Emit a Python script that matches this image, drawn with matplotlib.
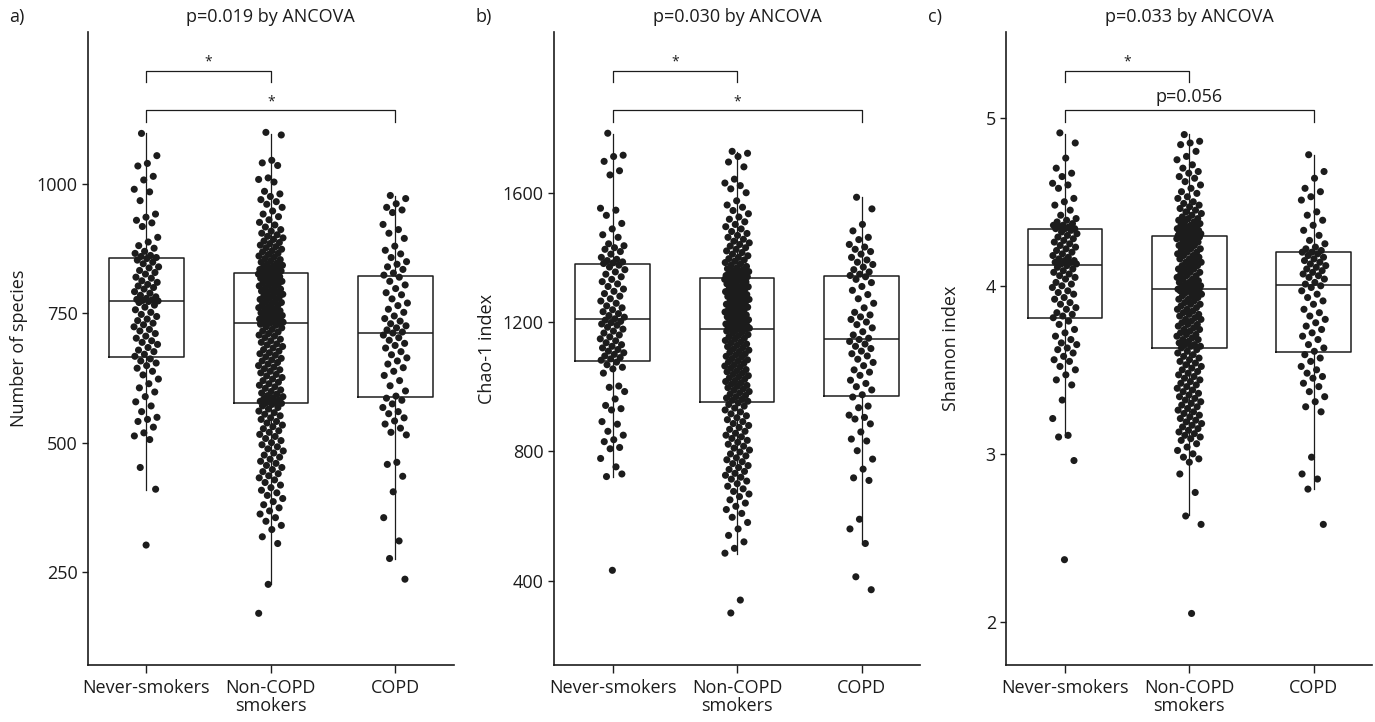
import numpy as np
import matplotlib.pyplot as plt
import matplotlib.transforms as mtransforms

plt.rcParams['font.family'] = ['Open Sans', 'DejaVu Sans']

groups = ['Never-smokers', 'Non-COPD\nsmokers', 'COPD']

# ---- a) number of species ----
never_a = [1098, 1055, 1040, 1035, 1015, 1008, 990, 985, 968, 942, 936, 930, 925, 918, 897, 888, 881, 876, 870, 866,
           862, 860, 858, 856, 853, 849, 846, 840, 838, 833, 829, 826, 820, 818, 813, 810, 806, 803, 800, 797,
           792, 789, 785, 782, 779, 777, 776, 775, 774, 773, 771, 766, 762, 757, 752, 748, 744, 739, 736, 731,
           728, 724, 719, 716, 711, 706, 702, 697, 694, 690, 684, 679, 676, 671, 667, 662, 658, 654, 649, 644,
           638, 631, 623, 614, 606, 598, 589, 579, 571, 560, 549, 545, 541, 530, 519, 513, 506, 452, 410, 302]
noncopd_a = [1100, 1095, 1046, 1041, 1036, 1012, 1009, 1004, 986, 981, 976, 970, 966, 961, 955, 948, 942, 937, 931, 926,
             921, 917, 912, 909, 905, 902, 899, 896, 893, 890, 887, 885, 882, 879, 877, 874, 871, 869, 866, 864,
             861, 859, 856, 854, 852, 849, 847, 845, 843, 841, 839, 838, 836, 835, 834, 833, 832, 831, 830, 829,
             828, 826, 825, 823, 821, 819, 818, 816, 814, 812, 811, 809, 807, 805, 803, 801, 799, 797, 795, 793,
             791, 789, 787, 785, 783, 781, 779, 777, 775, 773, 771, 769, 767, 765, 763, 761, 759, 757, 755, 753,
             751, 750, 748, 746, 745, 743, 742, 740, 739, 738, 737, 736, 735, 735, 734, 734, 733, 733, 732, 732,
             731, 729, 727, 724, 722, 719, 716, 714, 711, 708, 706, 703, 700, 697, 694, 691, 689, 686, 683, 680,
             677, 674, 672, 669, 666, 663, 660, 658, 655, 652, 649, 646, 643, 641, 638, 635, 632, 629, 626, 623,
             620, 617, 614, 611, 608, 605, 602, 599, 596, 594, 591, 589, 587, 585, 583, 581, 580, 578, 577, 576,
             574, 571, 568, 565, 561, 558, 555, 552, 548, 545, 541, 538, 534, 531, 527, 523, 520, 516, 512, 508,
             504, 500, 496, 492, 488, 484, 480, 476, 472, 468, 464, 460, 456, 452, 448, 444, 440, 436, 432, 428,
             423, 418, 413, 408, 403, 398, 392, 386, 380, 374, 368, 362, 355, 348, 340, 332, 318, 305, 226, 170]
copd_a = [978, 972, 962, 955, 950, 945, 922, 912, 905, 895, 880, 872, 865, 858, 850, 845, 840, 835, 828, 824,
          820, 812, 805, 798, 790, 786, 778, 770, 765, 758, 752, 745, 740, 735, 730, 726, 722, 718, 714,
          712, 708, 703, 698, 692, 688, 683, 676, 670, 664, 658, 652, 645, 638, 630, 620, 610, 600, 590,
          586, 582, 575, 568, 560, 556, 548, 542, 536, 528, 520, 515, 462, 458, 435, 405, 355, 310, 276, 236]
# whisker low, q1, median, q3, whisker high
stats_a = [[408, 665, 774, 857, 1098], [226, 576, 732, 829, 1096], [276, 588, 713, 823, 977]]

# ---- b) Chao-1 index ----
never_b = [1784, 1716, 1712, 1697, 1668, 1655, 1552, 1546, 1530, 1505, 1488, 1470, 1462, 1442, 1436, 1430, 1425, 1418, 1410, 1400,
           1394, 1390, 1386, 1383, 1381, 1376, 1370, 1362, 1355, 1348, 1340, 1332, 1325, 1318, 1310, 1302, 1295, 1288, 1280, 1272,
           1265, 1258, 1250, 1244, 1238, 1232, 1226, 1220, 1215, 1210, 1206, 1202, 1198, 1194, 1190, 1184, 1178, 1172, 1166, 1160,
           1154, 1148, 1142, 1136, 1130, 1125, 1120, 1115, 1110, 1105, 1100, 1095, 1090, 1086, 1082, 1076, 1068, 1060, 1055, 1042,
           1002, 998, 985, 962, 942, 932, 928, 892, 884, 862, 850, 836, 830, 812, 808, 778, 752, 722, 730, 432]
noncopd_b = [1728, 1722, 1712, 1695, 1680, 1642, 1630, 1622, 1612, 1600, 1575, 1562, 1555, 1545, 1535, 1525, 1518, 1510, 1502, 1495,
             1488, 1480, 1474, 1468, 1462, 1456, 1450, 1445, 1440, 1435, 1430, 1425, 1420, 1415, 1410, 1405, 1400, 1396, 1392, 1388,
             1384, 1380, 1376, 1372, 1368, 1365, 1362, 1359, 1356, 1353, 1350, 1348, 1346, 1344, 1342, 1341, 1340, 1339, 1338, 1337,
             1335, 1332, 1330, 1327, 1324, 1321, 1318, 1315, 1312, 1309, 1306, 1303, 1300, 1297, 1294, 1291, 1288, 1285, 1282, 1279,
             1276, 1273, 1270, 1267, 1264, 1261, 1258, 1255, 1252, 1249, 1246, 1243, 1240, 1237, 1234, 1231, 1228, 1225, 1222, 1219,
             1216, 1213, 1210, 1207, 1204, 1201, 1198, 1196, 1194, 1192, 1190, 1188, 1186, 1184, 1183, 1182, 1181, 1180, 1179, 1178,
             1176, 1172, 1168, 1165, 1161, 1158, 1154, 1150, 1147, 1143, 1139, 1136, 1132, 1128, 1124, 1121, 1117, 1113, 1109, 1106,
             1102, 1098, 1094, 1091, 1087, 1083, 1079, 1076, 1072, 1068, 1064, 1061, 1057, 1053, 1049, 1046, 1042, 1038, 1034, 1031,
             1027, 1023, 1019, 1016, 1012, 1008, 1004, 1001, 997, 993, 989, 985, 981, 977, 973, 969, 965, 961, 958, 955,
             950, 945, 940, 934, 928, 922, 916, 910, 904, 898, 892, 886, 880, 874, 868, 862, 856, 850, 845, 840,
             834, 828, 822, 816, 810, 804, 798, 792, 786, 780, 774, 768, 762, 756, 750, 744, 738, 732, 726, 720,
             714, 708, 700, 692, 684, 676, 668, 660, 650, 640, 630, 620, 608, 596, 580, 560, 540, 520, 500, 485, 340, 300]
copd_b = [1586, 1550, 1502, 1482, 1462, 1455, 1440, 1432, 1425, 1418, 1410, 1400, 1392, 1385, 1378, 1370, 1362, 1355, 1348, 1344,
          1340, 1332, 1322, 1310, 1298, 1285, 1272, 1258, 1244, 1230, 1222, 1216, 1208, 1200, 1192, 1182, 1170, 1160, 1150,
          1146, 1140, 1132, 1125, 1118, 1110, 1102, 1095, 1085, 1075, 1065, 1052, 1045, 1035, 1020, 1010, 1000, 990, 975,
          968, 940, 935, 912, 905, 900, 885, 860, 838, 832, 802, 776, 745, 718, 710, 590, 560, 515, 412, 372]
stats_b = [[721, 1080, 1209, 1380, 1782], [484, 954, 1177, 1337, 1727], [514, 972, 1147, 1343, 1586]]

# ---- c) Shannon index ----
never_c = [4.91, 4.85, 4.76, 4.70, 4.67, 4.65, 4.61, 4.60, 4.58, 4.52, 4.50, 4.48, 4.45, 4.42, 4.40, 4.39, 4.38, 4.37, 4.36, 4.36,
           4.35, 4.35, 4.34, 4.34, 4.34, 4.33, 4.32, 4.31, 4.30, 4.29, 4.28, 4.27, 4.26, 4.25, 4.24, 4.23, 4.22, 4.21, 4.20, 4.19,
           4.18, 4.17, 4.16, 4.15, 4.15, 4.14, 4.14, 4.13, 4.13, 4.12, 4.11, 4.10, 4.09, 4.08, 4.07, 4.06, 4.05, 4.04, 4.02, 4.01,
           4.00, 3.99, 3.97, 3.96, 3.95, 3.93, 3.92, 3.90, 3.89, 3.87, 3.86, 3.84, 3.83, 3.82, 3.81, 3.79, 3.77, 3.74, 3.72, 3.70,
           3.68, 3.66, 3.65, 3.63, 3.62, 3.60, 3.58, 3.56, 3.55, 3.52, 3.50, 3.47, 3.44, 3.41, 3.32, 3.21, 3.11, 3.10, 2.96, 2.37]
noncopd_c = [4.90, 4.86, 4.85, 4.84, 4.80, 4.77, 4.75, 4.72, 4.70, 4.68, 4.67, 4.65, 4.64, 4.62, 4.60, 4.58, 4.56, 4.55, 4.53, 4.52,
             4.50, 4.49, 4.48, 4.47, 4.46, 4.45, 4.44, 4.43, 4.42, 4.41, 4.40, 4.40, 4.39, 4.38, 4.38, 4.37, 4.36, 4.36, 4.35, 4.35,
             4.34, 4.34, 4.33, 4.33, 4.32, 4.32, 4.32, 4.31, 4.31, 4.31, 4.30, 4.30, 4.30, 4.30, 4.30, 4.30, 4.29, 4.29, 4.29, 4.29,
             4.28, 4.28, 4.27, 4.26, 4.26, 4.25, 4.24, 4.24, 4.23, 4.22, 4.22, 4.21, 4.20, 4.20, 4.19, 4.18, 4.18, 4.17, 4.16, 4.16,
             4.15, 4.14, 4.14, 4.13, 4.12, 4.12, 4.11, 4.10, 4.10, 4.09, 4.08, 4.08, 4.07, 4.06, 4.06, 4.05, 4.04, 4.04, 4.03, 4.02,
             4.02, 4.01, 4.01, 4.00, 4.00, 3.99, 3.99, 3.99, 3.98, 3.98, 3.98, 3.98, 3.97, 3.97, 3.96, 3.96, 3.95, 3.94, 3.94, 3.93,
             3.92, 3.92, 3.91, 3.90, 3.89, 3.89, 3.88, 3.87, 3.86, 3.86, 3.85, 3.84, 3.83, 3.83, 3.82, 3.81, 3.80, 3.80, 3.79, 3.78,
             3.77, 3.77, 3.76, 3.75, 3.74, 3.74, 3.73, 3.72, 3.71, 3.71, 3.70, 3.69, 3.68, 3.68, 3.67, 3.66, 3.65, 3.65, 3.64, 3.64,
             3.63, 3.62, 3.61, 3.60, 3.59, 3.58, 3.57, 3.56, 3.55, 3.54, 3.53, 3.52, 3.51, 3.50, 3.49, 3.48, 3.47, 3.46, 3.45, 3.44,
             3.43, 3.42, 3.41, 3.40, 3.39, 3.38, 3.37, 3.36, 3.35, 3.34, 3.33, 3.32, 3.31, 3.30, 3.29, 3.28, 3.27, 3.26, 3.25, 3.24,
             3.23, 3.22, 3.21, 3.20, 3.19, 3.18, 3.17, 3.16, 3.15, 3.14, 3.13, 3.12, 3.11, 3.10, 3.09, 3.08, 3.06, 3.04, 3.02, 3.00,
             2.98, 2.97, 2.95, 2.88, 2.77, 2.63, 2.58, 2.05]
copd_c = [4.78, 4.68, 4.64, 4.58, 4.56, 4.53, 4.51, 4.44, 4.42, 4.39, 4.36, 4.33, 4.30, 4.27, 4.25, 4.23, 4.22, 4.21, 4.20, 4.20,
          4.19, 4.18, 4.17, 4.16, 4.15, 4.14, 4.13, 4.12, 4.11, 4.10, 4.09, 4.08, 4.07, 4.06, 4.05, 4.04, 4.02, 4.01, 4.00,
          3.99, 3.97, 3.95, 3.93, 3.91, 3.89, 3.86, 3.84, 3.82, 3.80, 3.78, 3.76, 3.74, 3.72, 3.70, 3.68, 3.65, 3.63, 3.61,
          3.59, 3.57, 3.55, 3.52, 3.50, 3.48, 3.46, 3.45, 3.42, 3.40, 3.37, 3.34, 3.31, 3.28, 3.25, 2.98, 2.88, 2.85, 2.79, 2.58]
stats_c = [[3.103, 3.806, 4.122, 4.338, 4.903], [2.634, 3.632, 3.978, 4.296, 4.903], [2.788, 3.604, 4.004, 4.199, 4.779]]

panels = [
    dict(tag='a)', title='p=0.019 by ANCOVA', ylabel='Number of species', data=[never_a, noncopd_a, copd_a],
         stats=stats_a, yticks=[250, 500, 750, 1000], ylim=(70, 1294), ylab_x=-0.165,
         marks=['*', '*'], left=0.064),
    dict(tag='b)', title='p=0.030 by ANCOVA', ylabel='Chao-1 index', data=[never_b, noncopd_b, copd_b],
         stats=stats_b, yticks=[400, 800, 1200, 1600], ylim=(139, 2097), ylab_x=-0.16,
         marks=['*', '*'], left=0.4031),
    dict(tag='c)', title='p=0.033 by ANCOVA', ylabel='Shannon index', data=[never_c, noncopd_c, copd_c],
         stats=stats_c, yticks=[2, 3, 4, 5], ylim=(1.743, 5.51), ylab_x=-0.126,
         marks=['*', 'p=0.056'], left=0.7319),
]

fig = plt.figure(figsize=(13.75, 7.22), dpi=100)
ink = '#1c1c1c'
golden = 0.6180339887
ax_w = 0.266

for p in panels:
    ax = fig.add_axes([p['left'], 0.0789, ax_w, 0.8767])
    bxp_stats = []
    for st in p['stats']:
        bxp_stats.append(dict(whislo=st[0], q1=st[1], med=st[2], q3=st[3], whishi=st[4], fliers=[]))
    ax.bxp(bxp_stats, positions=[0, 1, 2], widths=0.6, showfliers=False, showcaps=False,
           boxprops=dict(color=ink, linewidth=1.1),
           medianprops=dict(color=ink, linewidth=1.1),
           whiskerprops=dict(color=ink, linewidth=0.9),
           manage_ticks=False, zorder=2)
    for i, vals in enumerate(p['data']):
        k = np.arange(len(vals))
        xs = i + ((k * golden + 0.3) % 1.0 - 0.5) * 0.2
        ax.scatter(xs, vals, s=26, color=ink, edgecolors='none', zorder=3)

    ax.set_xlim(-0.47, 2.47)
    ax.set_ylim(*p['ylim'])
    ax.set_yticks(p['yticks'])
    ax.set_xticks([0, 1, 2])
    ax.set_xticklabels(groups, fontsize=13, color=ink, linespacing=1.0)
    ax.tick_params(axis='y', labelsize=13, labelcolor=ink, length=4, width=1, color=ink)
    ax.tick_params(axis='x', length=6, width=1, color=ink, pad=4)
    for s in ['top', 'right']:
        ax.spines[s].set_visible(False)
    for s in ['left', 'bottom']:
        ax.spines[s].set_linewidth(1.2)
        ax.spines[s].set_color(ink)
    ax.set_ylabel(p['ylabel'], fontsize=13, color=ink)
    ax.yaxis.set_label_coords(p['ylab_x'], 0.5)

    # significance brackets (x in data, y in axes fraction)
    tr = mtransforms.blended_transform_factory(ax.transData, ax.transAxes)
    brackets = [(0, 1, 0.9389, 0.9215, 0.961), (0, 2, 0.8773, 0.8583, 0.898)]
    for (x0, x1, ytop, yleg, ytxt), lab in zip(brackets, p['marks']):
        ax.plot([x0, x0, x1, x1], [yleg, ytop, ytop, yleg], color=ink, lw=0.9,
                transform=tr, clip_on=False)
        if lab == '*':
            ax.text((x0 + x1) / 2, ytxt - 0.008, lab, transform=tr, ha='center', va='center',
                    fontsize=10, color=ink)
        else:
            ax.text((x0 + x1) / 2, ytxt, lab, transform=tr, ha='center', va='center',
                    fontsize=13, color=ink)

    fig.text(p['left'] + ax_w / 2, 0.976, p['title'], fontsize=13, color=ink, ha='center', va='center')
    fig.text(p['left'] - 0.057, 0.976, p['tag'], fontsize=13, color=ink, ha='left', va='center')

fig.savefig('out.png', dpi=100)
